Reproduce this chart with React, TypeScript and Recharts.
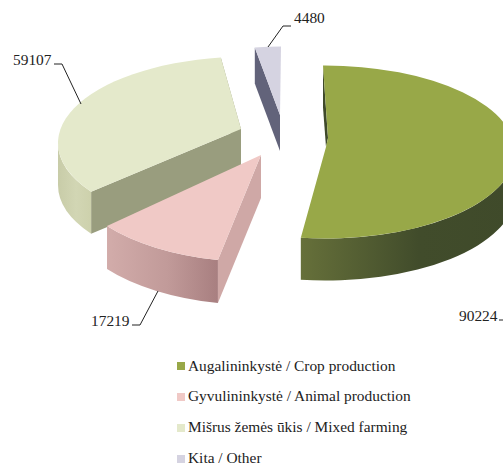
import React from "react";
import { PieChart, Pie, Legend } from "recharts";

const categories = [
  "Augalininkystė / Crop production",
  "Gyvulininkystė / Animal production",
  "Mišrus žemės ūkis / Mixed farming",
  "Kita / Other",
];
const farmCounts = [90224, 17219, 59107, 4480];

// Pseudo-3D look of each wedge (presentation only, no data values)
const WIDTH = 503;
const HEIGHT = 465;
const PIE_CX = 260;
const PIE_CY = 150;
const RX = 190;
const TILT = 0.455;
const colors = ["#98a848", "#f0c9c6", "#e4e9cb", "#d5d3e1"];
const looks = [
  { ex: 65, ey: 2, ax: 66, ay: -3, notch: [68, -12], depth: 42, shiftA: -0.6, shiftB: -2.6, wall: ["#66703a", "#414c2b", "#3f4a2a"], inner: "#3f4a2a" },
  { ex: 2, ey: 26, ax: 1, ay: 5, depth: 43, shiftA: 3.5, shiftB: 8.5, wall: ["#d2acaa", "#c19a99", "#a87f80"], inner: "#cfa8a6" },
  { ex: -12, ey: -7, ax: -19, ay: -21, depth: 42, shiftA: 9.5, shiftB: 1.2, wall: ["#c8cca8", "#d2d6b4", "#cdd1ac"], inner: "#999d7e" },
  { ex: 21, ey: -17, ax: 20, ay: -35, depth: 36, shiftA: 1.5, shiftB: 0, wall: ["#5f6075", "#5f6075", "#5f6075"], inner: "#62637a" },
];
const labelSpots = [
  { x: 459, y: 321, line: [[499, 320], [503, 320]] },
  { x: 91, y: 326, line: [[132, 325], [140, 325], [158, 291]] },
  { x: 13, y: 65, line: [[54, 64], [62, 64], [81, 104]] },
  { x: 294, y: 23, line: [[268, 47], [283, 26], [291, 26]] },
];

const tableData = categories.map((name, i) => ({ name, value: farmCounts[i], index: i, fill: colors[i] }));

const arcPoint = (x: number, y: number, clock: number) => {
  const t = (clock * Math.PI) / 180;
  return [x + RX * Math.sin(t), y - RX * TILT * Math.cos(t)];
};

function Wedge(props: any) {
  const { cx, cy, startAngle, endAngle, fill, payload, only, skip } = props;
  const i = payload.index;
  if (only !== undefined && i !== only) return null;
  if (skip !== undefined && i === skip) return null;
  const look: any = looks[i];
  const a = 90 - startAngle + look.shiftA;
  const b = 90 - endAngle + look.shiftB;
  const ex = cx + look.ex;
  const ey = cy + look.ey;
  const ax = cx + look.ax;
  const ay = cy + look.ay;
  const p0 = arcPoint(ex, ey, a);
  const p1 = arcPoint(ex, ey, b);
  const large = b - a > 180 ? 1 : 0;
  const ryy = RX * TILT;
  const d = look.depth;
  const notch = look.notch ? ` L${cx + look.notch[0]},${cy + look.notch[1]}` : "";
  const top = `M${ax},${ay}${notch} L${p0[0]},${p0[1]} A${RX},${ryy} 0 ${large} 1 ${p1[0]},${p1[1]} Z`;
  const from = Math.max(a, 90);
  const to = Math.min(b, 270);
  const w0 = arcPoint(ex, ey, from);
  const w1 = arcPoint(ex, ey, to);
  const wall =
    to > from
      ? `M${w0[0]},${w0[1]} A${RX},${ryy} 0 0 1 ${w1[0]},${w1[1]} L${w1[0]},${w1[1] + d} A${RX},${ryy} 0 0 0 ${w0[0]},${w0[1] + d} Z`
      : null;
  const cutStart = look.notch
    ? `M${ax},${ay}${notch} L${p0[0]},${p0[1]} L${p0[0]},${p0[1] + d} Z`
    : `M${ax},${ay} L${p0[0]},${p0[1]} L${p0[0]},${p0[1] + d} L${ax},${ay + d} Z`;
  const cutEnd = `M${ax},${ay} L${p1[0]},${p1[1]} L${p1[0]},${p1[1] + d} L${ax},${ay + d} Z`;
  const gid = `wall-${i}`;
  return (
    <g>
      <defs>
        <linearGradient id={gid} x1="0" y1="0" x2="1" y2="0">
          <stop offset="0%" stopColor={look.wall[0]} />
          <stop offset="55%" stopColor={look.wall[1]} />
          <stop offset="100%" stopColor={look.wall[2]} />
        </linearGradient>
      </defs>
      {i === 2 && <path d={cutEnd} fill={look.inner} />}
      <path d={cutStart} fill={look.inner} />
      {wall && <path d={wall} fill={`url(#${gid})`} />}
      <path d={top} fill={fill} />
    </g>
  );
}

function ValueLabel(props: any) {
  const i = props.payload?.index ?? props.index;
  const spot = labelSpots[i];
  return (
    <g>
      <polyline points={spot.line.map((p) => p.join(",")).join(" ")} fill="none" stroke="#222" strokeWidth={1} />
      <text x={spot.x} y={spot.y} fontFamily="Liberation Serif" fontSize={15.4} fill="#222">
        {props.value}
      </text>
    </g>
  );
}

function LegendList() {
  return (
    <svg width={WIDTH} height={HEIGHT} style={{ display: "block" }}>
      {categories.map((name, i) => (
        <g key={name}>
          <rect x={177} y={362 + i * 31} width={8} height={8} fill={colors[i]} />
          <text x={188} y={370.5 + i * 30.9} fontFamily="Liberation Serif" fontSize={15.4} fill="#222">
            {name}
          </text>
        </g>
      ))}
    </svg>
  );
}

export default function App() {
  return (
    <div style={{ position: "absolute", left: 0, top: 0, width: WIDTH, height: HEIGHT, overflow: "hidden", background: "#fff" }}>
      <PieChart width={WIDTH} height={HEIGHT} margin={{ top: 0, right: 0, bottom: 0, left: 0 }}>
        <Pie
          data={tableData}
          dataKey="value"
          nameKey="name"
          cx={PIE_CX}
          cy={PIE_CY}
          outerRadius={RX}
          startAngle={90}
          endAngle={-270}
          paddingAngle={0}
          stroke="none"
          isAnimationActive={false}
          shape={(p: any) => <Wedge {...p} skip={1} />}
          label={(p: any) => <ValueLabel {...p} />}
          labelLine={false}
        />
        <Pie
          data={tableData}
          dataKey="value"
          nameKey="name"
          cx={PIE_CX}
          cy={PIE_CY}
          outerRadius={RX}
          startAngle={90}
          endAngle={-270}
          stroke="none"
          legendType="none"
          isAnimationActive={false}
          shape={(p: any) => <Wedge {...p} only={1} />}
        />
        <Legend
          content={() => <LegendList />}
          wrapperStyle={{ position: "absolute", left: 0, top: 0, bottom: "auto", width: WIDTH, height: HEIGHT, pointerEvents: "none" }}
        />
      </PieChart>
    </div>
  );
}
